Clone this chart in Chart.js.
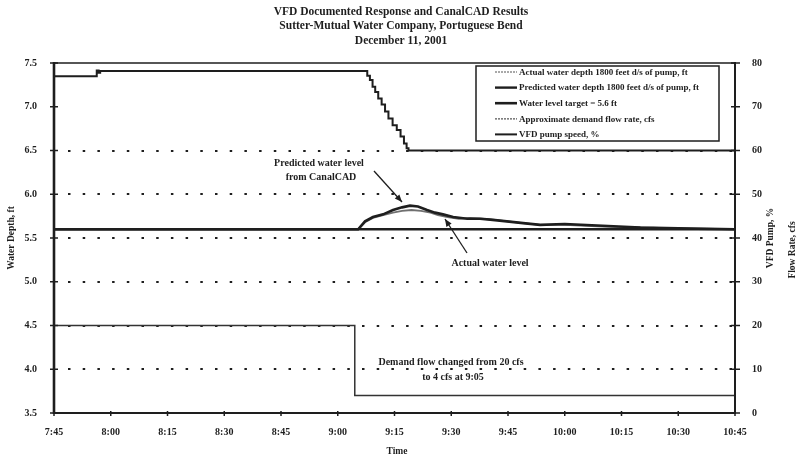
<!DOCTYPE html>
<html><head><meta charset="utf-8">
<script src="https://cdn.jsdelivr.net/npm/chart.js@4/dist/chart.umd.min.js"></script>
<style>html,body{margin:0;padding:0;background:#fff}#wrap{width:803px;height:461px}</style>
</head><body><div id="wrap"><canvas id="c" width="803" height="461"></canvas></div>
<script>
// ---- Data (time = minutes after 7:45) ----
const titleLines = ['VFD Documented Response and CanalCAD Results', 'Sutter-Mutual Water Company, Portuguese Bend', 'December 11, 2001'];
const timeTickLabels = ['7:45','8:00','8:15','8:30','8:45','9:00','9:15','9:30','9:45','10:00','10:15','10:30','10:45'];

const actualTime  = [0, 80.4, 82.2, 84.3, 87, 89.6, 92, 94.5, 97, 99.5, 101.5, 104, 107, 110, 113, 116, 120, 124, 128.5, 135, 145, 155, 165, 180];
const actualDepth = [5.6, 5.6, 5.68, 5.73, 5.76, 5.79, 5.81, 5.82, 5.81, 5.79, 5.76, 5.74, 5.72, 5.73, 5.72, 5.71, 5.69, 5.67, 5.65, 5.65, 5.63, 5.62, 5.61, 5.6];

const predictedTime  = [0, 80.4, 82.2, 84.3, 87, 89.6, 92, 94.1, 96.2, 98.6, 100.7, 102.8, 105.5, 109.2, 112.6, 115.3, 119.7, 124, 128.5, 135, 145, 155, 165, 180];
const predictedDepth = [5.6, 5.6, 5.69, 5.74, 5.77, 5.82, 5.85, 5.87, 5.86, 5.82, 5.79, 5.77, 5.74, 5.72, 5.72, 5.71, 5.69, 5.67, 5.65, 5.66, 5.64, 5.62, 5.61, 5.6];

const targetTime  = [0, 180];
const targetDepth = [5.6, 5.6];

const flowTime = [0, 79.5, 180];
const flowCfs  = [20, 4, 4];

const vfdTime = [0, 11.3, 11.8, 12.2, 82.8, 83.5, 84.2, 84.9, 85.7, 86.6, 87.5, 88.4, 89.5, 90.6, 91.6, 92.5, 93.2, 93.7, 180];
const vfdPct  = [77, 78.3, 77.8, 78.2, 77.1, 76.1, 74.6, 73.4, 71.9, 70.5, 68.9, 67.3, 65.8, 64.7, 63.2, 61.6, 60.5, 60, 60];

const gridDepths = [4.0, 4.5, 5.0, 5.5, 6.0, 6.5];

const pts = (xs, ys) => xs.map((x, i) => ({x, y: ys[i]}));
const SERIF = '"Liberation Serif", "DejaVu Serif", serif';
const INK = '#1e1e1e';

const datasets = [
  {label: 'Actual water depth 1800 feet d/s of pump, ft', data: pts(actualTime, actualDepth), yAxisID: 'y',
   borderColor: '#707070', borderWidth: 1.8, legendDash: [2, 1], legendWidth: 1.2, order: 3},
  {label: 'Predicted water depth 1800 feet d/s of pump, ft', data: pts(predictedTime, predictedDepth), yAxisID: 'y',
   borderColor: INK, borderWidth: 2.6, legendWidth: 2.4, order: 1},
  {label: 'Water level target = 5.6 ft', data: pts(targetTime, targetDepth), yAxisID: 'y',
   borderColor: INK, borderWidth: 2.4, legendWidth: 2.6, order: 2},
  {label: 'Approximate demand flow rate, cfs', data: pts(flowTime, flowCfs), yAxisID: 'y2', stepped: true,
   borderColor: '#333', borderWidth: 1.5, legendDash: [2, 1], legendWidth: 1.2, order: 4},
  {label: 'VFD pump speed, %', data: pts(vfdTime, vfdPct), yAxisID: 'y2', stepped: true,
   borderColor: INK, borderWidth: 2, legendWidth: 2, order: 5}
];
datasets.forEach(d => { d.pointRadius = 0; d.fill = false; d.tension = 0; });

function arrow(ctx, x1, y1, x2, y2) {
  ctx.beginPath(); ctx.moveTo(x1, y1); ctx.lineTo(x2, y2); ctx.stroke();
  const a = Math.atan2(y2 - y1, x2 - x1), L = 8, W = 0.4;
  ctx.beginPath(); ctx.moveTo(x2, y2);
  ctx.lineTo(x2 - L * Math.cos(a - W), y2 - L * Math.sin(a - W));
  ctx.lineTo(x2 - L * Math.cos(a + W), y2 - L * Math.sin(a + W));
  ctx.closePath(); ctx.fill();
}

const decor = {
  id: 'decor',
  beforeDatasetsDraw(chart) {
    const {ctx, chartArea: ca, scales: {y}} = chart;
    ctx.save();
    ctx.strokeStyle = INK; ctx.lineWidth = 2.2; ctx.setLineDash([2.5, 12.2]); ctx.lineCap = 'butt';
    gridDepths.forEach(v => {
      const py = Math.round(y.getPixelForValue(v));
      ctx.beginPath(); ctx.moveTo(ca.left + 14, py); ctx.lineTo(ca.right - 2, py); ctx.stroke();
    });
    ctx.restore();
  },
  afterDatasetsDraw(chart) {
    const {ctx, chartArea: ca, scales: {x, y, y2}} = chart;
    ctx.save();
    ctx.strokeStyle = INK; ctx.fillStyle = INK; ctx.setLineDash([]);
    // frame
    ctx.lineWidth = 1.5; ctx.beginPath(); ctx.moveTo(ca.left, ca.top); ctx.lineTo(ca.right, ca.top); ctx.stroke();
    ctx.lineWidth = 2; ctx.beginPath(); ctx.moveTo(ca.left, ca.bottom); ctx.lineTo(ca.right, ca.bottom); ctx.stroke();
    ctx.lineWidth = 2.6; ctx.beginPath(); ctx.moveTo(ca.left, ca.top - 1); ctx.lineTo(ca.left, ca.bottom + 1); ctx.stroke();
    ctx.lineWidth = 2; ctx.beginPath(); ctx.moveTo(ca.right, ca.top - 1); ctx.lineTo(ca.right, ca.bottom + 1); ctx.stroke();
    // tick marks
    ctx.lineWidth = 1.5;
    y.ticks.forEach(t => { const py = y.getPixelForValue(t.value); ctx.beginPath(); ctx.moveTo(ca.left - 4, py); ctx.lineTo(ca.left + 4, py); ctx.stroke(); });
    y2.ticks.forEach(t => { const py = y2.getPixelForValue(t.value); ctx.beginPath(); ctx.moveTo(ca.right - 4, py); ctx.lineTo(ca.right + 5, py); ctx.stroke(); });
    x.ticks.forEach(t => { const px = x.getPixelForValue(t.value); ctx.beginPath(); ctx.moveTo(px, ca.bottom - 2); ctx.lineTo(px, ca.bottom + 3); ctx.stroke(); });

    // legend
    const lx = 476, ly = 66, lw = 243, lh = 75;
    ctx.fillStyle = '#fff'; ctx.fillRect(lx, ly, lw, lh);
    ctx.lineWidth = 1.5; ctx.strokeStyle = INK; ctx.strokeRect(lx, ly, lw, lh);
    ctx.font = 'bold 9px ' + SERIF; ctx.textBaseline = 'middle'; ctx.textAlign = 'left';
    chart.data.datasets.forEach((d, i) => {
      const yy = ly + 6 + i * 15.6;
      ctx.strokeStyle = d.legendDash ? '#555' : INK; ctx.lineWidth = d.legendWidth;
      ctx.setLineDash(d.legendDash || []);
      ctx.beginPath(); ctx.moveTo(495, yy); ctx.lineTo(517, yy); ctx.stroke();
      ctx.setLineDash([]);
      ctx.fillStyle = INK; ctx.fillText(d.label, 519, yy + 0.5);
    });

    // annotations
    ctx.fillStyle = INK; ctx.strokeStyle = INK; ctx.lineWidth = 1.3;
    ctx.font = 'bold 10px ' + SERIF; ctx.textAlign = 'center';
    ctx.fillText('Predicted water level', 319, 163);
    ctx.fillText('from CanalCAD', 321, 177);
    arrow(ctx, 374, 171, 402, 202);
    ctx.fillText('Actual water level', 490, 263);
    arrow(ctx, 467, 253, 445, 219);
    ctx.fillText('Demand flow changed from 20 cfs', 451, 362);
    ctx.fillText('to 4 cfs at 9:05', 453, 377);

    // titles
    ctx.font = 'bold 11.5px ' + SERIF;
    titleLines.forEach((t, i) => ctx.fillText(t, 401, 12 + i * 14.5));
    ctx.font = 'bold 9.5px ' + SERIF;
    ctx.fillText('Time', 397, 452);
    const vtext = (t, px, py) => { ctx.save(); ctx.translate(px, py); ctx.rotate(-Math.PI / 2); ctx.fillText(t, 0, 0); ctx.restore(); };
    vtext('Water Depth, ft', 12, 238);
    vtext('VFD Pump, %', 771, 238);
    vtext('Flow Rate, cfs', 793, 250);
    ctx.restore();
  }
};

const tickFont = {family: SERIF, size: 10, weight: 'bold'};
new Chart(document.getElementById('c'), {
  type: 'line',
  data: {datasets},
  options: {
    responsive: false, animation: false, events: [],
    layout: {padding: {top: 63, left: 0, right: 0, bottom: 0}},
    plugins: {legend: {display: false}, tooltip: {enabled: false}, title: {display: false}},
    scales: {
      x: {type: 'linear', min: 0, max: 180,
          ticks: {stepSize: 15, padding: 5, color: INK, font: tickFont, maxRotation: 0,
                  callback: v => timeTickLabels[Math.round(v / 15)]},
          grid: {display: false}, border: {display: false},
          afterFit: s => { s.height = 48; }},
      y: {position: 'left', min: 3.5, max: 7.5,
          ticks: {stepSize: 0.5, padding: 9, color: INK, font: tickFont, callback: v => v.toFixed(1)},
          grid: {display: false}, border: {display: false},
          afterFit: s => { s.width = 54; }},
      y2: {position: 'right', min: 0, max: 80,
           ticks: {stepSize: 10, padding: 9, color: INK, font: tickFont},
           grid: {display: false}, border: {display: false},
           afterFit: s => { s.width = 68; }}
    }
  },
  plugins: [decor]
});
</script></body></html>
